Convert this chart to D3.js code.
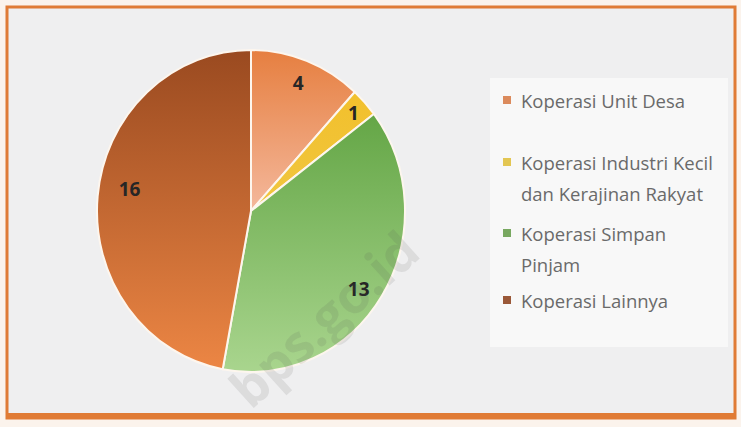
<!DOCTYPE html>
<html>
<head>
<meta charset="utf-8">
<script src="https://cdn.jsdelivr.net/npm/d3@7"></script>
<style>
  body { margin: 0; background: #fff; }
  svg { display: block; }
</style>
</head>
<body>
<div id="chart"></div>
<script>
// data
const categories = ["Koperasi Unit Desa", "Koperasi Industri Kecil dan Kerajinan Rakyat", "Koperasi Simpan Pinjam", "Koperasi Lainnya"];
const legendLines = [["Koperasi Unit Desa"], ["Koperasi Industri Kecil", "dan Kerajinan Rakyat"], ["Koperasi Simpan", "Pinjam"], ["Koperasi Lainnya"]];
const values = [4, 1, 13, 16];
const gradTop = ["#e67f40", "#f2c02c", "#64a646", "#9a4a20"];
const gradBottom = ["#f4b89c", "#f0c640", "#a9d58e", "#ec8644"];
const legendColors = ["#db8a5c", "#e3c652", "#78a860", "#9a5838"];

const W = 741, H = 427;
const svg = d3.select("#chart").append("svg").attr("width", W).attr("height", H);

// frame
svg.append("rect").attr("x", 0).attr("y", 0).attr("width", W).attr("height", H).attr("fill", "#fbf3ec");
svg.append("rect").attr("x", 7).attr("y", 7).attr("width", 728).attr("height", 411)
  .attr("fill", "#efeff0").attr("stroke", "#e07b35").attr("stroke-width", 3);
svg.append("rect").attr("x", 7).attr("y", 413).attr("width", 729).attr("height", 6).attr("fill", "#e07b35");

// pie
const cx = 251, cy = 211, rx = 154, ry = 161;
const defs = svg.append("defs");
const pie = d3.pie().sort(null).value(d => d)(values);
const arc = d3.arc().innerRadius(0).outerRadius(rx);

pie.forEach((p, i) => {
  // vertical extent of the slice for its gradient
  const pts = d3.range(0, 41).map(k => {
    const a = p.startAngle + (p.endAngle - p.startAngle) * k / 40;
    return -Math.cos(a) * rx;
  }).concat([0]);
  const g = defs.append("linearGradient").attr("id", "g" + i)
    .attr("gradientUnits", "userSpaceOnUse")
    .attr("x1", 0).attr("x2", 0).attr("y1", d3.min(pts)).attr("y2", d3.max(pts));
  g.append("stop").attr("offset", "0%").attr("stop-color", gradTop[i]);
  g.append("stop").attr("offset", "100%").attr("stop-color", gradBottom[i]);
});

const pg = svg.append("g").attr("transform", `translate(${cx},${cy}) scale(1,${ry / rx})`);
pg.selectAll("path").data(pie).join("path")
  .attr("d", arc)
  .attr("fill", (d, i) => `url(#g${i})`)
  .attr("stroke", "#fdf6ee").attr("stroke-width", 2);

// labels
const labelR = [0.85, 0.9, 0.85, 0.8];
const labelTurn = [0, 0, 0.05, 0.08];
svg.append("g").selectAll("text").data(pie).join("text")
  .attr("x", (d, i) => {
    const a = (d.startAngle + d.endAngle) / 2 + labelTurn[i];
    return cx + Math.sin(a) * rx * labelR[i];
  })
  .attr("y", (d, i) => {
    const a = (d.startAngle + d.endAngle) / 2 + labelTurn[i];
    return cy - Math.cos(a) * ry * labelR[i];
  })
  .attr("text-anchor", "middle").attr("dominant-baseline", "central")
  .attr("font-family", "Open Sans, sans-serif").attr("font-weight", "bold")
  .attr("font-size", 19).attr("fill", "#262626")
  .text(d => d.data);

// legend
svg.append("rect").attr("x", 490).attr("y", 78).attr("width", 238).attr("height", 269).attr("fill", "#f8f8f8");
const legendY = [100, 162, 233, 300];
const lg = svg.append("g");
legendLines.forEach((lines, i) => {
  lg.append("rect").attr("x", 503).attr("y", legendY[i] - 4).attr("width", 8).attr("height", 8).attr("fill", legendColors[i]);
  lines.forEach((t, j) => {
    lg.append("text").attr("x", 521).attr("y", legendY[i] + j * 31)
      .attr("dominant-baseline", "central")
      .attr("font-family", "Open Sans, sans-serif").attr("font-size", 18.5)
      .attr("fill", "#6a6a6a").text(t);
  });
});

// watermark
svg.append("text").attr("transform", "translate(323,318) rotate(-42)")
  .attr("text-anchor", "middle").attr("dominant-baseline", "central")
  .attr("font-family", "Open Sans, sans-serif").attr("font-weight", "bold").attr("font-size", 52)
  .attr("fill", "#555").attr("fill-opacity", 0.12)
  .text("bps.go.id");
</script>
</body>
</html>
